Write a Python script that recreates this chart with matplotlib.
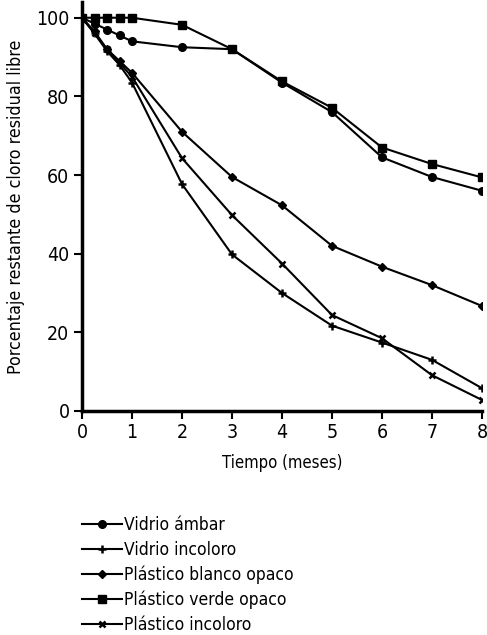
import matplotlib
matplotlib.use('Agg')
import matplotlib.pyplot as plt

plt.rcParams['font.family'] = ['Liberation Sans Narrow', 'DejaVu Sans']
plt.rcParams['font.stretch'] = 'condensed'

meses = [0, 0.25, 0.5, 0.75, 1, 2, 3, 4, 5, 6, 7, 8]

vidrio_ambar = [100, 98.5, 97, 95.5, 94, 92.5, 92, 83.5, 76, 64.5, 59.5, 56]
vidrio_incoloro = [100, 96, 91.5, 88, 83.5, 57.7, 39.8, 30, 21.7, 17.4, 13, 5.8]
plastico_blanco = [100, 96.5, 92, 89, 86, 71, 59.5, 52.3, 42, 36.7, 32, 26.7]
plastico_verde = [100, 100, 100, 100, 100, 98.2, 92, 83.8, 77.1, 67, 62.8, 59.4]
plastico_incoloro = [100, 96, 92, 88.5, 85, 64.3, 49.8, 37.5, 24.4, 18.5, 9.1, 2.8]

series = [
    ('Vidrio ámbar', vidrio_ambar, 'o', 5.5),
    ('Vidrio incoloro', vidrio_incoloro, '+', 6),
    ('Plástico blanco opaco', plastico_blanco, 'D', 4.5),
    ('Plástico verde opaco', plastico_verde, 's', 5.5),
    ('Plástico incoloro', plastico_incoloro, 'x', 5),
]

fig = plt.figure(figsize=(4.87, 6.35), dpi=100)
ax = fig.add_axes([82 / 487, (635 - 411) / 635, 400 / 487, 409 / 635])

for name, vals, mk, ms in series:
    ax.plot(meses, vals, color='black', lw=1.5, marker=mk, markersize=ms,
            markeredgewidth=1.8 if mk in '+x' else 1, label=name)

ax.set_xlim(0, 8)
ax.set_ylim(0, 104)
ax.set_xticks(range(0, 9))
ax.set_yticks(range(0, 101, 20))
ax.spines['top'].set_visible(False)
ax.spines['right'].set_visible(False)
ax.spines['left'].set_linewidth(2.5)
ax.spines['bottom'].set_linewidth(2.5)
ax.tick_params(width=1.5, length=6, labelsize=14, pad=3)
for spine in ax.spines.values():
    spine.set_clip_on(False)

ax.set_xlabel('Tiempo (meses)', fontsize=12, labelpad=8)
ax.set_ylabel('Porcentaje restante de cloro residual libre', fontsize=12.8, labelpad=8)

fig.legend(loc='upper left', bbox_to_anchor=(75 / 487, 1 - 509 / 635),
           frameon=False, fontsize=12.5, handlelength=2.3, handletextpad=0.15,
           labelspacing=0.39, borderaxespad=0)

fig.savefig('out.png', dpi=100)
